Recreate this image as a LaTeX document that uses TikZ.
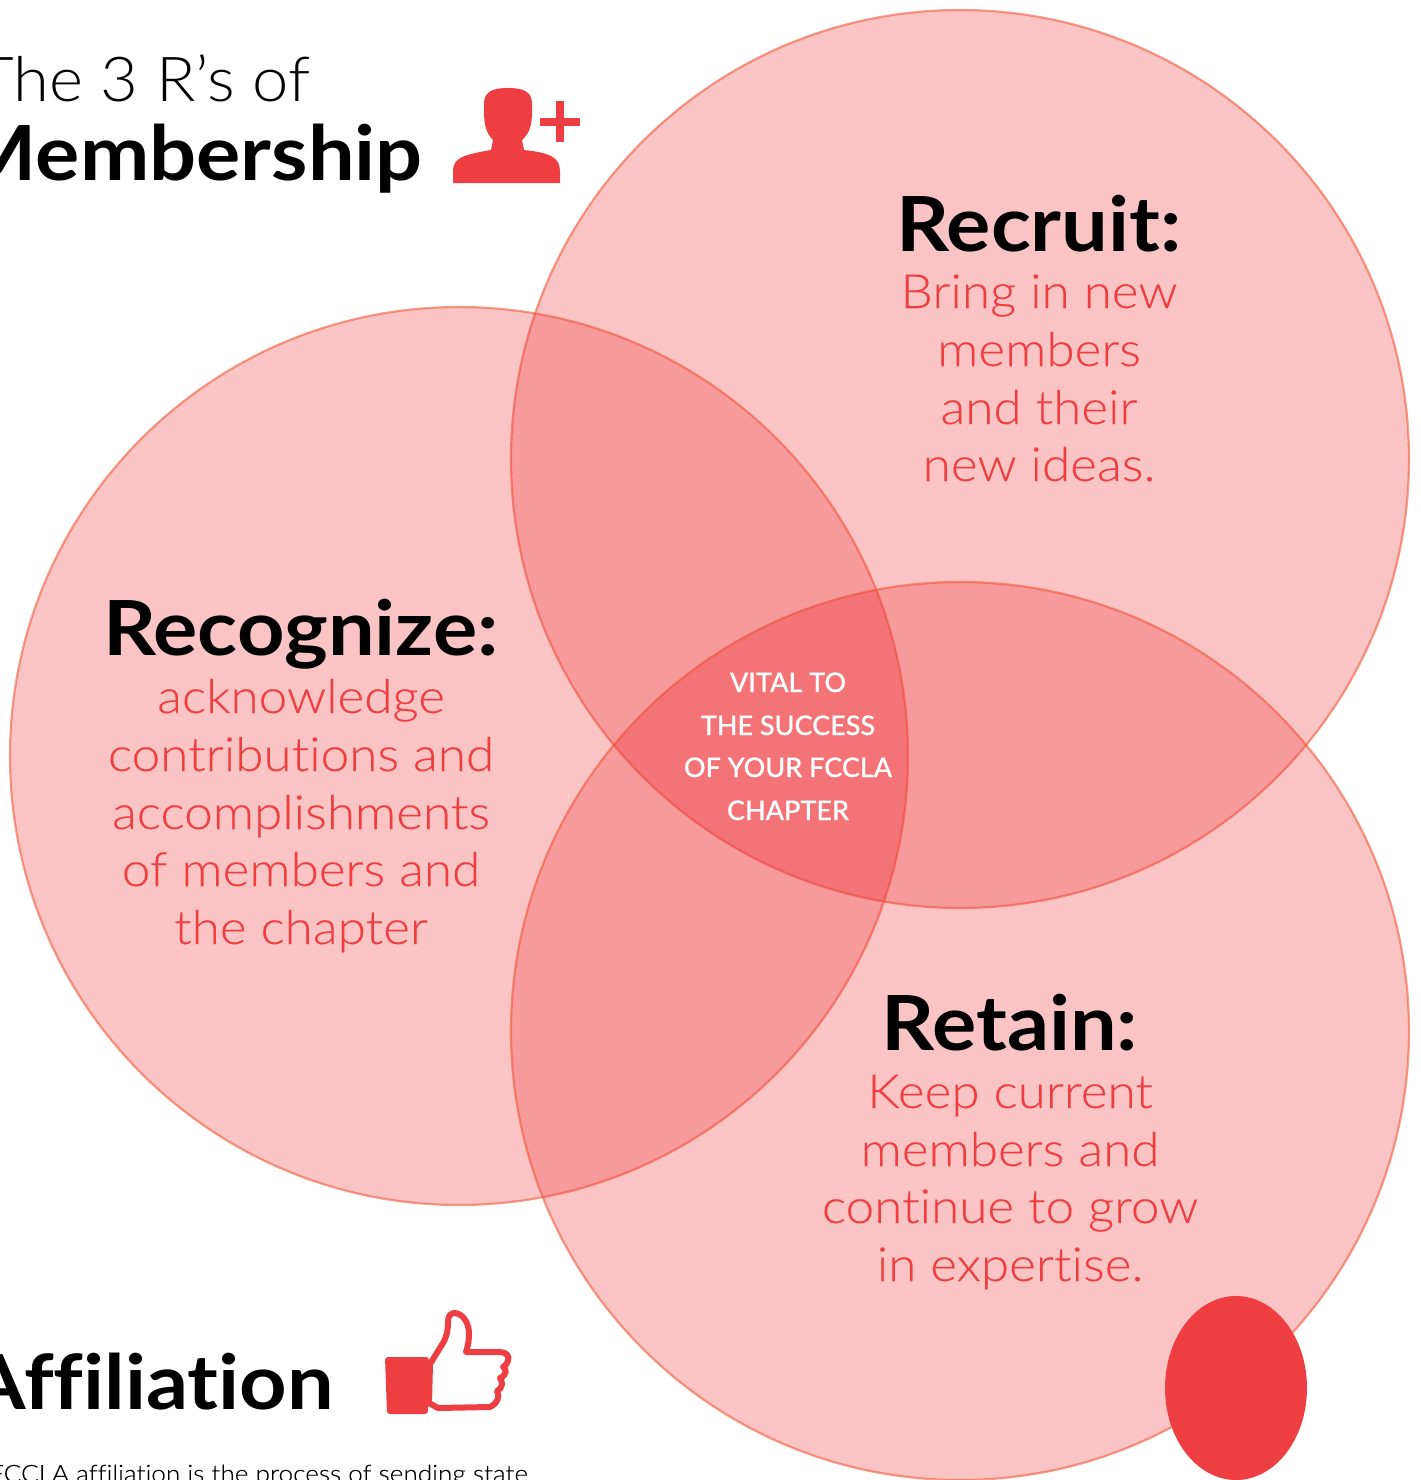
\documentclass[tikz,border=0pt]{standalone}
\usepackage{fontspec}
\setmainfont{Lato}
\newfontfamily\lightf[FakeStretch=1.09,FakeBold=0.12,Ligatures=NoCommon]{Lato Light}
\newfontfamily\titlef[FakeStretch=1.05,Ligatures=NoCommon]{Lato Light}
\newfontfamily\heavyf[FakeStretch=1.09,Ligatures=NoCommon]{Lato Bold}
\newfontfamily\coref[FakeBold=0.5,Ligatures=NoCommon]{Lato Medium}
\newcommand{\fs}[1]{\fontsize{#1}{#1}\selectfont}
\definecolor{brand}{HTML}{EF3E42}
\definecolor{ringc}{HTML}{F0502F}
\tikzset{
  venn/.style={circle,minimum size=898pt,inner sep=0pt,fill=brand,fill opacity=.31,draw=ringc,draw opacity=.55,line width=2.2pt},
  head/.style={font=\heavyf\fs{76},text=black,anchor=base,inner sep=0pt},
  body/.style={font=\lightf\fs{47},text=brand,anchor=base,inner sep=0pt},
  core/.style={font=\coref\fs{27},text=white,anchor=base,inner sep=0pt},
  title/.style={font=\titlef\fs{62},text=black,anchor=base east,inner sep=0pt},
  iconf/.style={fill=brand,draw=none},
}
\begin{document}
\begin{tikzpicture}[x=1pt,y=-1pt]
\useasboundingbox (0,0) rectangle (1421,1480);
\clip (0,0) rectangle (1421,1480);
\node[venn] (recruit) at (960,459) {};
\node[venn] (recognize) at (459,756) {};
\node[venn] (retain) at (960,1031) {};
\begin{scope}
\clip (960,459) circle[radius=449];
\clip (459,756) circle[radius=449];
\fill[brand,fill opacity=.17] (960,1031) circle[radius=449];
\end{scope}
\fill[brand] (1236,1388) ellipse[x radius=71,y radius=92];
% titles
\node[title] (t1) at (311,101) {The 3 R’s of};
\node[title,font=\heavyf\fs{76}] (t2) at (423,180) {Membership};
\node[title,font=\heavyf\fs{76}] (t3) at (334,1409) {Affiliation};
\node[title,font=\lightf\fs{24}] (t4) at (528,1482) {FCCLA affiliation is the process of sending state};
% Recruit
\node[head] (h1) at (1039,251) {Recruit:};
\node[body] (b11) at (1039,308) {Bring in new};
\node[body] (b12) at (1039,366) {members};
\node[body] (b13) at (1039,424) {and their};
\node[body] (b14) at (1039,481) {new ideas.};
% Recognize
\node[head] (h2) at (301,655) {Recognize:};
\node[body] (b21) at (301,713) {acknowledge};
\node[body] (b22) at (301,771) {contributions and};
\node[body] (b23) at (301,829) {accomplishments};
\node[body] (b24) at (301,886) {of members and};
\node[body] (b25) at (301,944) {the chapter};
% Retain
\node[head] (h3) at (1010,1050) {Retain:};
\node[body] (b31) at (1010,1108) {Keep current};
\node[body] (b32) at (1010,1166) {members and};
\node[body] (b33) at (1010,1223) {continue to grow};
\node[body] (b34) at (1010,1281) {in expertise.};
% centre
\node[core] (c1) at (788,692) {VITAL TO};
\node[core] (c2) at (788,735) {THE SUCCESS};
\node[core] (c3) at (788,777) {OF YOUR FCCLA};
\node[core] (c4) at (788,820) {CHAPTER};
% person icon
\fill[iconf] (453,183) -- (453,170) .. controls (454,158) and (462,155) .. (491,150) -- (493,140)
  .. controls (486,133) and (484,124) .. (484,112) -- (484,102) .. controls (485,92) and (492,88) .. (508,88)
  .. controls (524,88) and (531,92) .. (532,102) -- (532,112) .. controls (532,124) and (530,133) .. (522,140)
  -- (524,150) .. controls (552,153) and (560,158) .. (560,172) -- (560,183) -- cycle;
\fill[iconf] (556,101) rectangle (564,142);
\fill[iconf] (540,118) rectangle (580,126);
% thumb icon
\fill[iconf,rounded corners=3pt] (385,1357) -- (429,1357) -- (428,1414) -- (387,1414) -- cycle;
\draw[brand,line width=6pt,line join=round,fill=white]
  (430,1364) -- (443,1343) .. controls (447,1336) and (448,1330) .. (448,1322)
  .. controls (448,1315) and (451,1313) .. (455,1313) .. controls (464,1314) and (469,1324) .. (469,1334)
  .. controls (469,1340) and (468,1346) .. (466,1352) -- (500,1352)
  .. controls (506,1352) and (510,1356) .. (508,1361) .. controls (507,1364) and (505,1366) .. (503,1367)
  .. controls (507,1369) and (507,1375) .. (500,1378) .. controls (503,1382) and (503,1388) .. (497,1391)
  .. controls (500,1396) and (498,1403) .. (490,1407) -- (438,1408) -- (429,1403) -- cycle;
\end{tikzpicture}
\end{document}
